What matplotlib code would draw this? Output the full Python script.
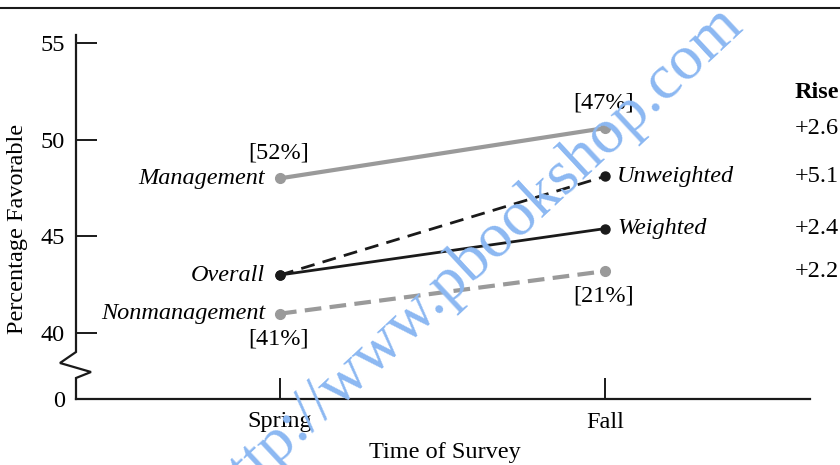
import matplotlib
matplotlib.use('Agg')
import matplotlib.pyplot as plt
from matplotlib.lines import Line2D
from matplotlib.transforms import blended_transform_factory

plt.rcParams['font.family'] = ['Liberation Serif', 'DejaVu Serif']

# data
seasons = ['Spring', 'Fall']
management = [48.0, 50.6]
nonmanagement = [41.0, 43.2]
unweighted = [43.0, 48.1]
weighted = [43.0, 45.4]
rises = ['+2.6', '+5.1', '+2.4', '+2.2']
share_mgmt = ['[52%]', '[47%]']
share_nonmgmt = ['[41%]', '[21%]']
y_ticks = [40, 45, 50, 55]

W, H = 840, 465
fig = plt.figure(figsize=(W / 100, H / 100), dpi=100)

# axes placed in pixels
ax_l, ax_r, ax_t, ax_b = 76, 810, 35, 399
ax = fig.add_axes([ax_l / W, 1 - ax_b / H, (ax_r - ax_l) / W, (ax_b - ax_t) / H])

px_per_unit_y = (333 - 43) / 15.0
y_bottom = 40 - (ax_b - 333) / px_per_unit_y
y_top = 55 + (43 - ax_t) / px_per_unit_y
ax.set_ylim(y_bottom, y_top)
x0, x1 = 280, 605
ax.set_xlim((ax_l - x0) / (x1 - x0), (ax_r - x0) / (x1 - x0))

x = [0, 1]
grey = '#9a9a9a'
black = '#1a1a1a'

ax.plot(x, management, color=grey, lw=3, marker='o', ms=7, solid_capstyle='butt', zorder=3)
ax.plot(x, nonmanagement, color=grey, lw=3, ls=(0, (4, 2)), marker='o', ms=7, zorder=3)
ax.plot(x, unweighted, color=black, lw=2, ls=(0, (5, 3)), marker='o', ms=6.5, zorder=4)
ax.plot(x, weighted, color=black, lw=2, marker='o', ms=6.5, zorder=4)

fs = 17.5
# series labels
left_labels = [('Management', management[0]), ('Overall', unweighted[0]),
               ('Nonmanagement', nonmanagement[0])]
for name, val in left_labels:
    ax.annotate(name, (0, val), xytext=(-15, 0), textcoords='offset pixels',
                ha='right', va='center', fontsize=fs, style='italic')
for name, val in [('Unweighted', unweighted[1]), ('Weighted', weighted[1])]:
    ax.annotate(name, (1, val), xytext=(12, 0), textcoords='offset pixels',
                ha='left', va='center', fontsize=fs, style='italic')

for i in range(2):
    ax.annotate(share_mgmt[i], (i, management[i]), xytext=(-1, 25), textcoords='offset pixels',
                ha='center', va='center', fontsize=fs)
    ax.annotate(share_nonmgmt[i], (i, nonmanagement[i]), xytext=(-1, -25), textcoords='offset pixels',
                ha='center', va='center', fontsize=fs)

# rise column
rise_x = (795 - x0) / (x1 - x0)
ax.text(rise_x, 55 - (92 - 43) / px_per_unit_y, 'Rise', fontsize=fs, fontweight='bold',
        ha='left', va='center', clip_on=False)
for r, val in zip(rises, [management[1], unweighted[1], weighted[1], nonmanagement[1]]):
    ax.text(rise_x, val, r, fontsize=fs, ha='left', va='center', clip_on=False)

# axes styling
for s in ['top', 'right', 'left']:
    ax.spines[s].set_visible(False)
ax.spines['bottom'].set_linewidth(1.6)
ax.spines['bottom'].set_color(black)

ax.set_xticks(x)
ax.set_xticklabels(seasons, fontsize=fs)
ax.set_yticks([y_bottom] + y_ticks)
ax.set_yticklabels(['0'] + [str(t) for t in y_ticks], fontsize=fs)
ax.tick_params(axis='both', direction='in', length=15, width=1.4, color=black)
ax.tick_params(axis='y', pad=8)
ax.tick_params(axis='x', pad=9)

# broken left spine
tr = blended_transform_factory(ax.transAxes, ax.transData)
dx = 1.0 / (ax_r - ax_l)
def yp(py):
    return 40 - (py - 333) / px_per_unit_y
sx = [0, 0, -16 * dx, 15 * dx, 0, 0]
sy = [y_top, yp(352), yp(363), yp(372), yp(378), y_bottom]
ax.plot(sx, sy, transform=tr, color=black, lw=1.6, clip_on=False, solid_joinstyle='miter')

# axis titles
fig.text(18 / W, 1 - 229 / H, 'Percentage Favorable', rotation=90, ha='center', va='center', fontsize=fs)
fig.text(445 / W, 1 - 452 / H, 'Time of Survey', ha='center', va='center', fontsize=fs)

# top rule
fig.add_artist(Line2D([0, 1], [1 - 8 / H, 1 - 8 / H], transform=fig.transFigure, color=black, lw=1.5))

# watermark
fig.text(745 / W, 1 - 28 / H, 'http://www.pbookshop.com', rotation=43, ha='right', va='baseline',
         fontsize=46, color='#8cb8f2', rotation_mode='anchor', zorder=10)

fig.savefig('out.png', dpi=100)
